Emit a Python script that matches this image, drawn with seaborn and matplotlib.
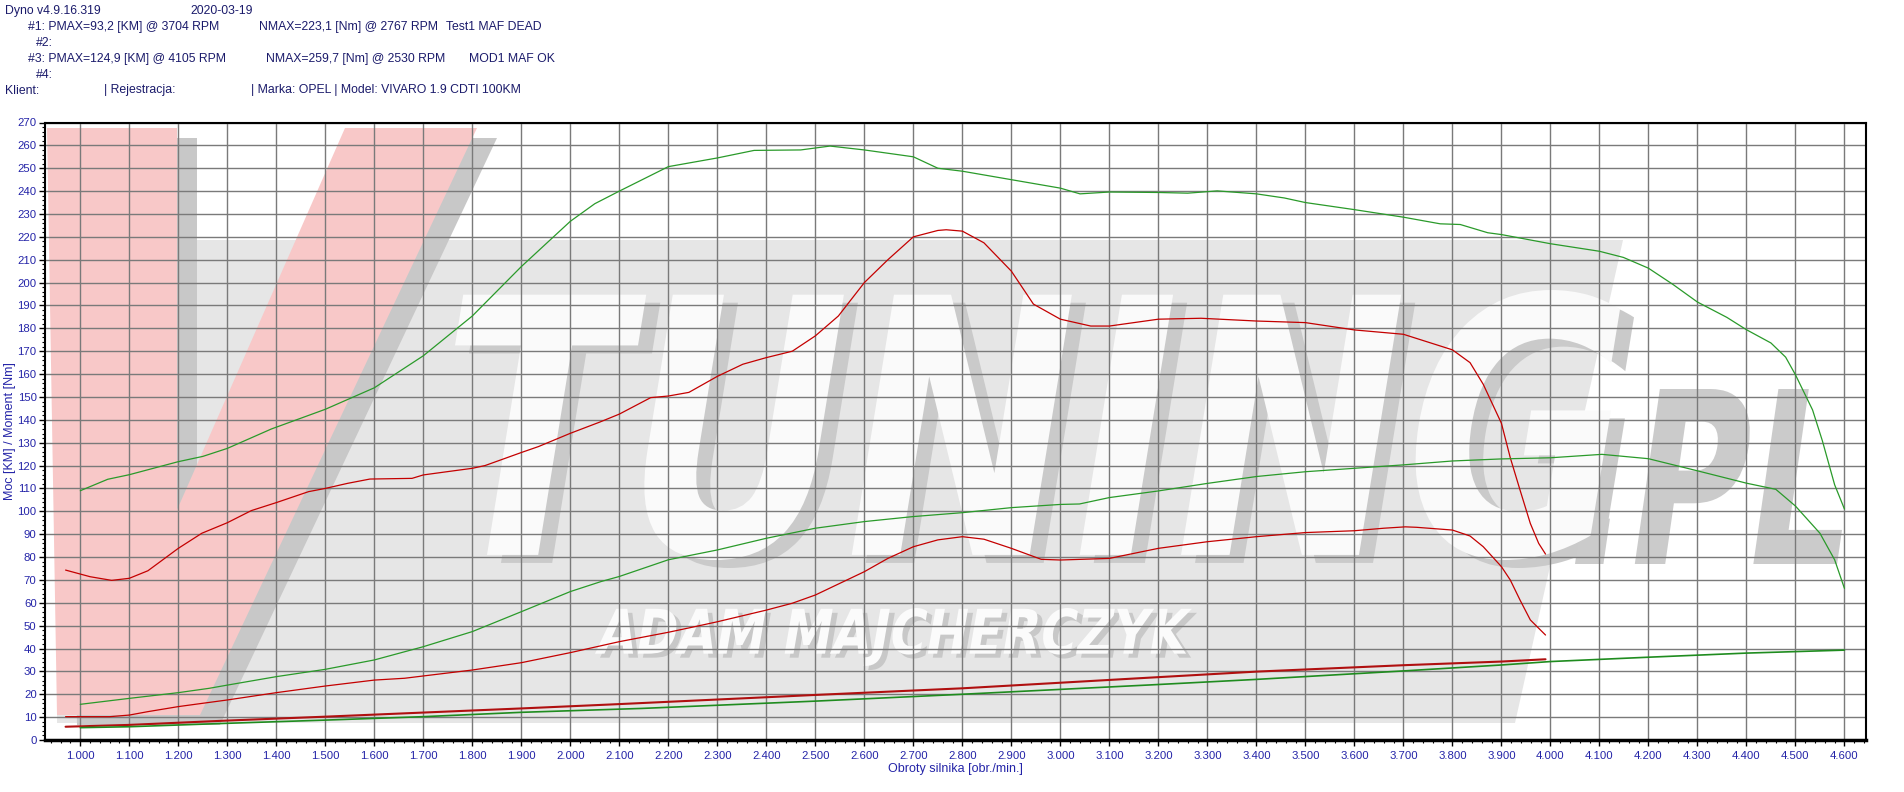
"""
Dyno sheet: OPEL VIVARO 1.9 CDTI, run #1 (MAF dead) vs run #3 (MAF ok).
"""

import matplotlib
matplotlib.use("Agg")

import matplotlib.pyplot as plt
import seaborn as sns
from matplotlib import font_manager
from matplotlib.font_manager import FontProperties
from matplotlib.patches import Polygon, PathPatch
from matplotlib.textpath import TextPath
from matplotlib.transforms import Affine2D
from matplotlib.ticker import MultipleLocator, FuncFormatter

# =============================================================================
# Data
# =============================================================================

# run #1 - Test1 MAF DEAD (red)
run1_torque_rpm = [970, 1020, 1064, 1100, 1138, 1200, 1248, 1300, 1349, 1400,
                   1466, 1500, 1545, 1591, 1677, 1700, 1748, 1800, 1826, 1900,
                   1935, 2000, 2060, 2100, 2164, 2200, 2242, 2300, 2352, 2400,
                   2453, 2500, 2547, 2600, 2648, 2700, 2750, 2767, 2800, 2844,
                   2900, 2945, 3000, 3062, 3100, 3200, 3287, 3400, 3500, 3600,
                   3700, 3800, 3836, 3863, 3900, 3918, 3938, 3959, 3976, 3990]
run1_torque = [74.3, 71.4, 69.8, 70.7, 74.0, 83.8, 90.4, 95.0, 100.3, 103.8,
               108.6, 110.0, 112.2, 114.1, 114.4, 115.9, 117.3, 118.8, 120.0, 125.7,
               128.3, 134.1, 139.0, 142.5, 149.7, 150.4, 152.0, 159.0, 164.3, 167.2,
               170.0, 176.7, 185.4, 200.0, 210.0, 220.0, 222.8, 223.1, 222.5, 217.4,
               205.0, 190.6, 184.0, 181.0, 181.0, 184.0, 184.4, 183.2, 182.5, 179.3,
               177.4, 170.6, 165.0, 155.5, 138.5, 123.5, 109.3, 94.7, 86.0, 81.3]

run1_power_rpm = [970, 1060, 1100, 1138, 1200, 1248, 1300, 1400, 1500, 1600,
                  1662, 1700, 1800, 1900, 2000, 2100, 2200, 2255, 2300, 2400,
                  2453, 2500, 2600, 2648, 2700, 2750, 2800, 2844, 2900, 2961,
                  3000, 3100, 3200, 3300, 3400, 3500, 3600, 3660, 3704, 3727,
                  3800, 3836, 3863, 3900, 3918, 3938, 3959, 3990]
run1_power = [10.2, 10.2, 10.9, 12.4, 14.6, 16.0, 17.5, 20.7, 23.6, 26.2,
              27.0, 28.0, 30.6, 33.8, 38.2, 43.0, 47.1, 49.6, 51.7, 56.8,
              59.8, 63.4, 73.6, 79.4, 84.5, 87.5, 88.9, 87.8, 83.8, 79.0,
              78.7, 79.4, 83.8, 86.7, 88.9, 90.7, 91.5, 92.6, 93.2, 93.0,
              91.8, 89.2, 84.5, 75.8, 70.0, 61.2, 52.5, 45.9]

run1_loss_rpm = [970, 1100, 1300, 1500, 1700, 1900, 2100, 2500, 2800, 3185,
                 3400, 3700, 3900, 3990]
run1_loss = [5.8, 6.6, 8.5, 10.2, 12.0, 13.8, 15.7, 19.7, 22.6, 27.3,
             29.9, 32.7, 34.3, 35.3]

# run #3 - MOD1 MAF OK (green)
run3_torque_rpm = [1000, 1056, 1100, 1200, 1250, 1300, 1390, 1500, 1600, 1700,
                   1800, 1900, 2000, 2050, 2100, 2200, 2300, 2375, 2470, 2530,
                   2600, 2700, 2750, 2800, 2900, 3000, 3040, 3100, 3200, 3260,
                   3320, 3400, 3457, 3500, 3600, 3700, 3775, 3816, 3872, 3900,
                   4000, 4100, 4149, 4200, 4250, 4300, 4360, 4400, 4450, 4480,
                   4500, 4535, 4555, 4580, 4600]
run3_torque = [109.0, 114.0, 116.0, 121.7, 124.0, 127.5, 136.0, 144.6, 154.0, 168.0,
               185.4, 207.0, 226.8, 234.5, 240.0, 250.7, 254.5, 257.8, 258.0, 259.7,
               258.0, 255.0, 250.0, 248.7, 245.0, 241.3, 238.8, 239.6, 239.4, 239.1,
               240.1, 238.8, 237.0, 235.0, 231.9, 228.6, 225.7, 225.4, 221.8, 221.0,
               217.0, 213.7, 211.0, 206.3, 199.2, 191.5, 184.8, 179.4, 173.6, 167.4,
               159.7, 144.3, 130.8, 111.6, 101.0]

run3_power_rpm = [1000, 1100, 1200, 1263, 1300, 1400, 1500, 1600, 1700, 1800,
                  1900, 2000, 2063, 2100, 2200, 2300, 2400, 2500, 2600, 2700,
                  2800, 2900, 3000, 3039, 3100, 3200, 3300, 3400, 3500, 3600,
                  3700, 3800, 3900, 4000, 4105, 4200, 4300, 4400, 4460, 4500,
                  4550, 4580, 4600]
run3_power = [15.6, 18.2, 20.7, 22.6, 24.0, 27.7, 30.9, 35.0, 40.8, 47.4,
              56.1, 64.9, 69.3, 71.5, 78.8, 83.1, 88.2, 92.6, 95.5, 97.7,
              99.4, 101.6, 103.0, 103.2, 106.0, 108.9, 112.2, 115.2, 117.3, 118.8,
              120.3, 122.0, 122.9, 123.4, 124.9, 123.0, 117.7, 112.3, 109.6, 102.3,
              90.4, 78.8, 66.3]

run3_loss_rpm = [1000, 1100, 1300, 1500, 1700, 1900, 2145, 2500, 2800, 3185,
                 3400, 3700, 3900, 4000, 4200, 4400, 4600]
run3_loss = [5.4, 5.8, 7.3, 8.7, 10.2, 12.1, 13.8, 17.0, 20.0, 24.1,
             26.5, 30.2, 32.8, 34.3, 36.2, 38.0, 39.3]

header_lines = [
    (5, 11, "Dyno v4.9.16.319"),
    (190, 11, "2020-03-19"),
    (28, 27, "#1: PMAX=93,2 [KM] @ 3704 RPM"),
    (259, 27, "NMAX=223,1 [Nm] @ 2767 RPM"),
    (446, 27, "Test1 MAF DEAD"),
    (36, 43, "#2:"),
    (28, 59, "#3: PMAX=124,9 [KM] @ 4105 RPM"),
    (266, 59, "NMAX=259,7 [Nm] @ 2530 RPM"),
    (469, 59, "MOD1 MAF OK"),
    (36, 74.5, "#4:"),
    (5, 90.5, "Klient:"),
    (104, 90.5, "| Rejestracja:"),
    (251, 90.5, "| Marka: OPEL | Model: VIVARO 1.9 CDTI 100KM"),
]

# =============================================================================
# Style
# =============================================================================

RED = "#c40000"
RED_LOSS = "#b01010"
GREEN = "#2a9a2a"
GREEN_LOSS = "#1f8c1f"
NAVY = "#1b1b6b"
TICK_BLUE = "#2424a8"

W, H = 1904, 792
AX_LEFT, AX_RIGHT, AX_TOP, AX_BOTTOM = 45, 1866, 122.5, 740  # pixel frame

sns.set_style("white")
installed = {f.name for f in font_manager.fontManager.ttflist}
base_font = "Liberation Sans" if "Liberation Sans" in installed else "DejaVu Sans"
plt.rcParams["font.family"] = [base_font, "DejaVu Sans"]


def px(x, y):
    """pixel position on the sheet -> axes fraction"""
    return ((x - AX_LEFT) / (AX_RIGHT - AX_LEFT),
            (AX_BOTTOM - y) / (AX_BOTTOM - AX_TOP))


def add_poly(ax, pts, color, z, dx=0, dy=0):
    verts = [px(x + dx, y + dy) for x, y in pts]
    ax.add_patch(Polygon(verts, closed=True, facecolor=color, edgecolor="none",
                         transform=ax.transAxes, zorder=z))


def add_text_logo(ax, s, box, color, z, skew=12):
    path = TextPath((0, 0), s, size=100,
                    prop=FontProperties(family="DejaVu Sans", weight="bold"))
    path = Affine2D().skew_deg(skew, 0).transform_path(path)
    ext = path.get_extents()
    x0, y0 = px(box[0], box[3])
    x1, y1 = px(box[2], box[1])
    t = (Affine2D().translate(-ext.x0, -ext.y0)
         .scale((x1 - x0) / ext.width, (y1 - y0) / ext.height)
         .translate(x0, y0))
    ax.add_patch(PathPatch(t.transform_path(path), facecolor=color,
                           edgecolor="none", transform=ax.transAxes, zorder=z))


# =============================================================================
# Figure
# =============================================================================

fig = plt.figure(figsize=(W / 100, H / 100), dpi=100)
ax = fig.add_axes([AX_LEFT / W, 1 - AX_BOTTOM / H,
                   (AX_RIGHT - AX_LEFT) / W, (AX_BOTTOM - AX_TOP) / H])

# -----------------------------------------------------------------------------
# Watermark (V-TUNING.PL logo)
# -----------------------------------------------------------------------------

plate = [(57, 240), (1623, 240), (1515, 723), (57, 723)]
add_poly(ax, plate, "#e6e6e6", 0.05)

v_shape = [(47, 128), (177, 128), (177, 510), (345, 128), (477, 128),
           (200, 715), (57, 715)]
add_poly(ax, v_shape, "#c8c8c8", 0.1, dx=20, dy=10)
add_poly(ax, v_shape, "#f8c8c8", 0.12)

add_text_logo(ax, "TUNING", (469, 298, 1634, 568), "#cacaca", 0.15)
add_text_logo(ax, "TUNING", (455, 290, 1620, 560), "#fafafa", 0.16)
add_text_logo(ax, ".PL", (1575, 389, 1842, 564), "#cbcbcb", 0.15)
add_text_logo(ax, "ADAM MAJCHERCZYK", (600, 612, 1197, 670), "#c8c8c8", 0.17)
add_text_logo(ax, "ADAM MAJCHERCZYK", (595, 608, 1192, 666), "#fbfbfb", 0.18)

# -----------------------------------------------------------------------------
# Curves
# -----------------------------------------------------------------------------

curves = [
    (run1_loss_rpm, run1_loss, RED_LOSS, 1.5),
    (run3_loss_rpm, run3_loss, GREEN_LOSS, 1.2),
    (run1_power_rpm, run1_power, RED, 0.9),
    (run1_torque_rpm, run1_torque, RED, 0.9),
    (run3_power_rpm, run3_power, GREEN, 0.9),
    (run3_torque_rpm, run3_torque, GREEN, 0.9),
]

for rpm, values, color, lw in curves:
    sns.lineplot(x=rpm, y=values, ax=ax, color=color, linewidth=lw,
                 estimator=None, zorder=3)

# -----------------------------------------------------------------------------
# Axes
# -----------------------------------------------------------------------------

ax.set_xlim(928, 4644)
ax.set_ylim(0, 270)

ax.xaxis.set_major_locator(MultipleLocator(100))
ax.xaxis.set_minor_locator(MultipleLocator(20))
ax.yaxis.set_major_locator(MultipleLocator(10))
ax.yaxis.set_minor_locator(MultipleLocator(2))
ax.xaxis.set_major_formatter(FuncFormatter(lambda v, _: f"{v / 1000:.3f}"))
ax.yaxis.set_major_formatter(FuncFormatter(lambda v, _: f"{v:.0f}"))

ax.set_axisbelow(True)
ax.grid(True, which="major", color="#7a7a7a", linewidth=1.0)

ax.tick_params(axis="both", which="major", direction="out", length=4,
               width=1, color="black", labelsize=8.2, labelcolor=TICK_BLUE,
               bottom=True, left=True)
ax.tick_params(axis="both", which="minor", direction="out", length=2.5,
               width=0.8, color="black", bottom=True, left=True)
ax.tick_params(axis="x", which="major", pad=4)
ax.tick_params(axis="y", which="major", pad=2)

for side, spine in ax.spines.items():
    spine.set_visible(True)
    spine.set_color("black")
    spine.set_linewidth(2.5 if side == "bottom" else 1.5)

ax.set_xlabel("Obroty silnika [obr./min.]", fontsize=9, color=TICK_BLUE,
              va="center")
ax.xaxis.set_label_coords(0.5, (AX_BOTTOM - 769) / (AX_BOTTOM - AX_TOP))

ax.set_ylabel("Moc [KM] / Moment [Nm]", fontsize=9, color=TICK_BLUE,
              va="center", ha="center")
ax.yaxis.set_label_coords((10 - AX_LEFT) / (AX_RIGHT - AX_LEFT), 0.5)

# -----------------------------------------------------------------------------
# Header
# -----------------------------------------------------------------------------

for x, y, text in header_lines:
    fig.text(x / W, 1 - y / H, text, fontsize=8.8, color=NAVY,
             ha="left", va="center")

fig.savefig("out.png", dpi=100)
